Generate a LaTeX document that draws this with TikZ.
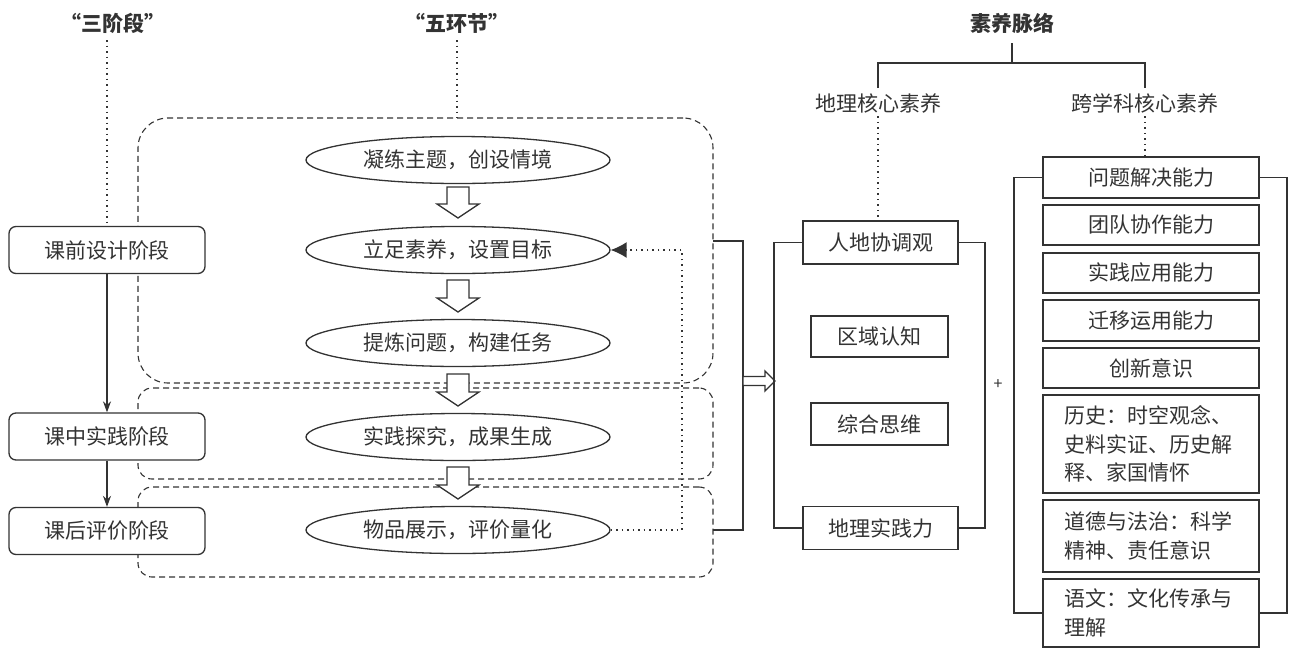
\documentclass[tikz,border=0pt]{standalone}
\usepackage{fontspec}
\setmainfont{Noto Sans CJK SC}
\usetikzlibrary{arrows.meta,shapes.geometric}
\definecolor{ink}{HTML}{333333}
\tikzset{
  base/.style={font=\fontsize{21}{28.5}\selectfont, text=ink},
  stagebox/.style={base, draw=ink, line width=1.3pt, rounded corners=7pt, minimum width=196pt, minimum height=47pt, inner sep=0pt},
  ell/.style={base, ellipse, draw=ink, line width=1.3pt, minimum width=304pt, minimum height=47pt, inner sep=0pt},
  sqbox/.style={base, draw=ink, line width=1.3pt, inner sep=0pt},
  frame/.style={draw=ink, line width=1.1pt, dash pattern=on 6pt off 4pt, minimum width=575pt, inner sep=0pt},
  dots/.style={draw=ink, line width=1.5pt, dash pattern=on 1.5pt off 4pt},
  solidline/.style={draw=ink, line width=1.8pt},
  hollow/.style={draw=ink, line width=1.3pt, fill=white},
  head/.style={base, font=\fontsize{21}{25}\selectfont\bfseries},
}
\newcommand{\hdown}[3]{%
  \draw[hollow] ({#1-11},#2) -- ({#1+11},#2) -- ({#1+11},{#3-14}) -- ({#1+21},{#3-14}) -- (#1,#3) -- ({#1-21},{#3-14}) -- ({#1-11},{#3-14}) -- cycle;}
\begin{document}
\begin{tikzpicture}[x=1pt,y=-1pt]
\useasboundingbox (0,0) rectangle (1296,651);

% headers
\node[head] (h1) at (113,23) {“三阶段”};
\node[head] (h2) at (457,23) {“五环节”};
\node[head] (h3) at (1012,23) {素养脉络};

% frames
\node[frame, rounded corners=30pt, minimum height=265pt] (f1) at (425.5,250.5) {};
\node[frame, rounded corners=14pt, minimum height=91pt] (f2) at (425.5,433.5) {};
\node[frame, rounded corners=14pt, minimum height=90pt] (f3) at (425.5,532) {};

% stage boxes
\node[stagebox, fill=white] (s1) at (107,250) {课前设计阶段};
\node[stagebox, fill=white] (s2) at (107,436.5) {课中实践阶段};
\node[stagebox, fill=white] (s3) at (107,531) {课后评价阶段};

\coordinate (d1) at (107,40);
\coordinate (d2) at (457,40);
\draw[dots] (d1) -- (s1.north);
\draw[dots] (d2) -- (d2 |- f1.north);

\draw[solidline, line width=1.5pt, -{Stealth[length=11pt,width=8pt]}] (s1.south) -- (s2.north);
\draw[solidline, line width=1.5pt, -{Stealth[length=11pt,width=8pt]}] (s2.south) -- (s3.north);

% ellipses
\node[ell] (e1) at (458,160) {凝练主题，创设情境};
\node[ell] (e2) at (458,250) {立足素养，设置目标};
\node[ell] (e3) at (458,343) {提炼问题，构建任务};
\node[ell] (e4) at (458,437) {实践探究，成果生成};
\node[ell] (e5) at (458,530) {物品展示，评价量化};

\hdown{458}{187}{218}
\hdown{458}{280}{312}
\hdown{458}{374}{406}
\hdown{458}{467}{499}

% feedback
\coordinate (fb1) at (682,530);
\coordinate (fb2) at (682,250);
\draw[dots, -{Latex[length=16pt,width=16pt]}] (e5.east) -- (fb1) -- (fb2) -- (e2.east);

% bracket
\coordinate (b1) at (713,241);
\coordinate (b2) at (743,241);
\coordinate (b3) at (743,530);
\coordinate (b4) at (713,530);
\draw[solidline] (b1) -- (b2) -- (b3) -- (b4);
\draw[hollow] (743,376.5) -- (765,376.5) -- (765,371) -- (775,381) -- (765,391) -- (765,385.5) -- (743,385.5) -- cycle;

% top tree
\node[base] (t1) at (878,103) {地理核心素养};
\node[base] (t2) at (1145,103) {跨学科核心素养};
\coordinate (k0) at (1012,43);
\coordinate (k1) at (1012,63);
\coordinate (k2) at (878,63);
\coordinate (k3) at (1145,63);
\coordinate (k4) at (878,88);
\coordinate (k5) at (1145,88);
\draw[solidline, line width=1.5pt] (k0) -- (k1);
\draw[solidline, line width=1.5pt] (k4) -- (k2) -- (k3) -- (k5);

% geography boxes
\node[sqbox, minimum width=155pt, minimum height=43pt] (g1) at (880.5,242.5) {人地协调观};
\node[sqbox, minimum width=137pt, minimum height=41pt] (g2) at (879.5,336.5) {区域认知};
\node[sqbox, minimum width=137pt, minimum height=42pt] (g3) at (879.5,424) {综合思维};
\node[sqbox, minimum width=155pt, minimum height=43pt] (g4) at (880.5,528) {地理实践力};
\coordinate (gl) at (774,385);
\coordinate (gr) at (985,385);
\draw[solidline] (g1.west) -| (gl) |- (g4.west);
\draw[solidline] (g1.east) -| (gr) |- (g4.east);
\draw[dots] (t1.south) -- (t1.south |- g1.north);

\node[base, font=\fontsize{16}{18}\selectfont] (plus) at (998,385) {+};

% cross-disciplinary boxes
\node[sqbox, minimum width=216pt, minimum height=41pt] (r1) at (1151,177.5) {问题解决能力};
\node[sqbox, minimum width=216pt, minimum height=40pt] (r2) at (1151,225) {团队协作能力};
\node[sqbox, minimum width=216pt, minimum height=40pt] (r3) at (1151,273) {实践应用能力};
\node[sqbox, minimum width=216pt, minimum height=41pt] (r4) at (1151,320.5) {迁移运用能力};
\node[sqbox, minimum width=216pt, minimum height=40pt] (r5) at (1151,368) {创新意识};
\node[sqbox, minimum width=216pt, minimum height=98pt, text width=174pt, align=left] (r6) at (1151,444) {历史：时空观念、\\史料实证、历史解\\释、家国情怀};
\node[sqbox, minimum width=216pt, minimum height=72pt, text width=174pt, align=left] (r7) at (1151,536) {道德与法治：科学\\精神、责任意识};
\node[sqbox, minimum width=216pt, minimum height=68pt, text width=174pt, align=left] (r8) at (1151,613) {语文：文化传承与\\理解};
\coordinate (rl) at (1014,400);
\coordinate (rr) at (1287,400);
\draw[solidline] (r1.west) -| (rl) |- (r8.west);
\draw[solidline] (r1.east) -| (rr) |- (r8.east);
\draw[dots] (t2.south) -- (t2.south |- r1.north);
\end{tikzpicture}
\end{document}
